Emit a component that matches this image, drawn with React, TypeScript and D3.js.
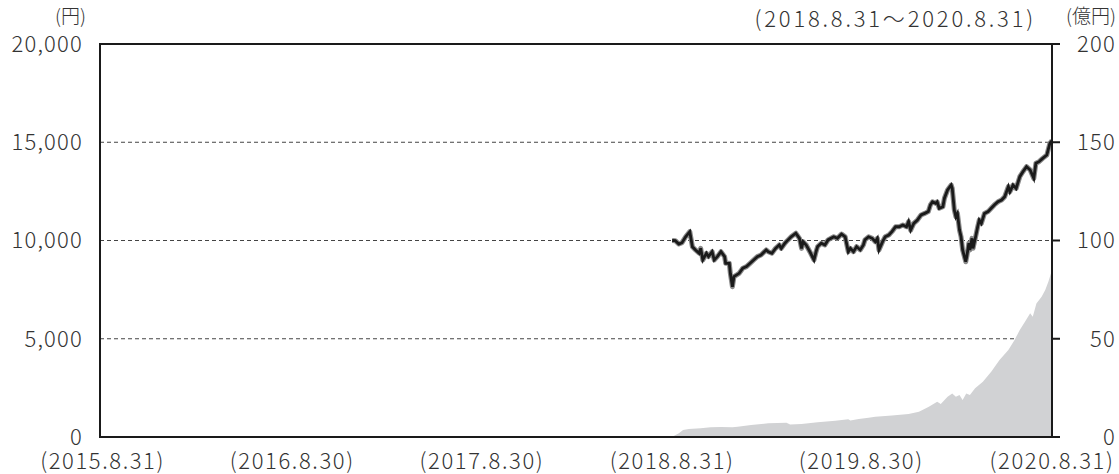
import React from 'react';
import * as d3 from 'd3';

// 基準価額（円）
const navDates = [
  '2018-08-31', '2018-09-06', '2018-09-13', '2018-09-19', '2018-09-26', '2018-10-04', '2018-10-09',
  '2018-10-15', '2018-10-22', '2018-10-25', '2018-10-29', '2018-11-05', '2018-11-09', '2018-11-16',
  '2018-11-20', '2018-11-26', '2018-12-03', '2018-12-10', '2018-12-12', '2018-12-19', '2018-12-21',
  '2018-12-25', '2018-12-28', '2019-01-07', '2019-01-14', '2019-01-21', '2019-01-28', '2019-02-04',
  '2019-02-11', '2019-02-18', '2019-02-28', '2019-03-04', '2019-03-11', '2019-03-18', '2019-03-25',
  '2019-03-29', '2019-04-05', '2019-04-11', '2019-04-17', '2019-04-26', '2019-05-03', '2019-05-07',
  '2019-05-10', '2019-05-16', '2019-05-23', '2019-05-31', '2019-06-04', '2019-06-07', '2019-06-14',
  '2019-06-21', '2019-06-27', '2019-07-08', '2019-07-15', '2019-07-23', '2019-07-30', '2019-08-05',
  '2019-08-09', '2019-08-15', '2019-08-21', '2019-08-28', '2019-09-03', '2019-09-06', '2019-09-13',
  '2019-09-20', '2019-09-26', '2019-09-30', '2019-10-03', '2019-10-10', '2019-10-15', '2019-10-22',
  '2019-10-28', '2019-11-04', '2019-11-11', '2019-11-18', '2019-11-25', '2019-11-29', '2019-12-03',
  '2019-12-09', '2019-12-16', '2019-12-23', '2019-12-30', '2020-01-06', '2020-01-10', '2020-01-14',
  '2020-01-20', '2020-01-23', '2020-01-27', '2020-02-03', '2020-02-06', '2020-02-12', '2020-02-19',
  '2020-02-21', '2020-02-25', '2020-02-28', '2020-03-02', '2020-03-06', '2020-03-09', '2020-03-12',
  '2020-03-18', '2020-03-20', '2020-03-24', '2020-03-26', '2020-03-30', '2020-04-01', '2020-04-06',
  '2020-04-10', '2020-04-13', '2020-04-17', '2020-04-23', '2020-04-30', '2020-05-06', '2020-05-12',
  '2020-05-19', '2020-05-26', '2020-06-01', '2020-06-08', '2020-06-11', '2020-06-17', '2020-06-23',
  '2020-06-30', '2020-07-06', '2020-07-13', '2020-07-20', '2020-07-27', '2020-07-31', '2020-08-06',
  '2020-08-13', '2020-08-21', '2020-08-27', '2020-08-31',
];
const navValues = [
  10000, 9990, 9820, 9890, 10190, 10450, 9680,
  9520, 9350, 9600, 9010, 9350, 9180, 9430,
  9010, 9180, 9430, 9180, 8840, 8840, 8330,
  7650, 8160, 8330, 8590, 8670, 8840, 9010,
  9180, 9260, 9520, 9430, 9350, 9600, 9770,
  9600, 9860, 10030, 10190, 10370, 10110, 9600,
  9940, 9770, 9430, 9010, 9430, 9690, 9860,
  9770, 10030, 10190, 10110, 10330, 10190, 9430,
  9600, 9430, 9690, 9520, 9770, 10030, 10190,
  10110, 9940, 10110, 9520, 9940, 10190, 10280,
  10450, 10700, 10700, 10790, 10700, 10960, 10530,
  10870, 11040, 11300, 11380, 11470, 11810, 11970,
  11890, 11970, 11640, 11720, 12150, 12570, 12820,
  12660, 11550, 11210, 11380, 10530, 10190, 9520,
  8920, 9180, 9860, 9520, 10110, 9600, 10190,
  10700, 11040, 10870, 11380, 11470, 11640, 11810,
  11970, 12060, 12230, 12740, 12480, 12820, 12650,
  13250, 13500, 13760, 13590, 13160, 13930, 14010,
  14180, 14350, 14950, 15080,
];

// 純資産総額（億円）
const assetDates = [
  '2018-08-31', '2018-09-03', '2018-09-13', '2018-09-21', '2018-10-02', '2018-10-25', '2018-11-13',
  '2018-12-03', '2018-12-25', '2019-01-04', '2019-01-30', '2019-03-04', '2019-04-08', '2019-04-15',
  '2019-05-07', '2019-06-07', '2019-07-11', '2019-08-05', '2019-08-09', '2019-08-25', '2019-09-13',
  '2019-09-26', '2019-10-28', '2019-11-29', '2019-12-19', '2020-01-07', '2020-01-23', '2020-01-30',
  '2020-02-12', '2020-02-21', '2020-02-28', '2020-03-06', '2020-03-12', '2020-03-19', '2020-03-26',
  '2020-04-05', '2020-04-20', '2020-05-06', '2020-05-22', '2020-06-08', '2020-06-20', '2020-06-30',
  '2020-07-10', '2020-07-20', '2020-07-25', '2020-08-01', '2020-08-11', '2020-08-18', '2020-08-24',
  '2020-08-31',
];
const assetValues = [
  0, 0.5, 1.9, 3.6, 4.1, 4.4, 4.9,
  5.1, 4.9, 5.2, 6.1, 7.0, 7.3, 6.4,
  6.6, 7.5, 8.3, 9.0, 8.4, 9.2, 9.8,
  10.3, 11.0, 11.7, 12.9, 15.4, 18.0, 16.8,
  20.5, 22.2, 20.5, 21.4, 18.8, 22.2, 21.4,
  24.8, 28.1, 33.2, 39.2, 44.3, 49.4, 54.5,
  58.7, 63.0, 61.2, 68.0, 71.4, 74.8, 79.0,
  85.0,
];

const xTickDates = ['2015-08-31', '2016-08-30', '2017-08-30', '2018-08-31', '2019-08-30', '2020-08-31'];
const xTickLabels = ['(2015.8.31)', '(2016.8.30)', '(2017.8.30)', '(2018.8.31)', '(2019.8.30)', '(2020.8.31)'];
const leftTicks = [0, 5000, 10000, 15000, 20000];
const rightTicks = [0, 50, 100, 150, 200];

const width = 1119;
const height = 474;
const margin = { top: 44, right: 67, bottom: 37, left: 100 };
const font = "'Noto Sans CJK JP', 'Noto Sans', sans-serif";

const parse = d3.timeParse('%Y-%m-%d');

export default function App() {
  const x = d3.scaleTime()
    .domain([parse('2015-08-26')!, parse('2020-08-31')!])
    .range([margin.left, width - margin.right]);
  const yL = d3.scaleLinear().domain([0, 20000]).range([height - margin.bottom, margin.top]);
  const yR = d3.scaleLinear().domain([0, 200]).range([height - margin.bottom, margin.top]);

  const nav = navDates.map((d, i) => ({ date: parse(d)!, value: navValues[i] }));
  const assets = assetDates.map((d, i) => ({ date: parse(d)!, value: assetValues[i] }));

  const line = d3.line<{ date: Date; value: number }>()
    .x(d => x(d.date))
    .y(d => yL(d.value));
  const area = d3.area<{ date: Date; value: number }>()
    .x(d => x(d.date))
    .y0(yR(0))
    .y1(d => yR(d.value));

  const x0 = margin.left;
  const x1 = width - margin.right;
  const yTop = margin.top;
  const yBot = height - margin.bottom;

  return (
    <svg width={width} height={height} style={{ position: 'absolute', left: 0, top: 0, background: '#fff' }}
      fontFamily={font} fontWeight={300}>
      {/* gridlines */}
      {leftTicks.filter(t => t > 0 && t < 20000).map(t => (
        <line key={t} x1={x0} x2={x1} y1={yL(t)} y2={yL(t)} stroke="#444" strokeWidth={1} strokeDasharray="4,3" />
      ))}

      <path d={area(assets) || ''} fill="#d1d2d4" />
      <path d={line(nav) || ''} fill="none" stroke="#8a8a8a" strokeWidth={5} strokeLinejoin="round" />
      <path d={line(nav) || ''} fill="none" stroke="#1a1a1a" strokeWidth={2.8} strokeLinejoin="miter" />

      {/* frame */}
      <line x1={x0} x2={x1} y1={yTop} y2={yTop} stroke="#1a1a1a" strokeWidth={2} />
      <line x1={x0} x2={x1 + 8} y1={yBot} y2={yBot} stroke="#1a1a1a" strokeWidth={2} />
      <line x1={x0} x2={x0} y1={yTop - 1} y2={yBot + 1} stroke="#1a1a1a" strokeWidth={2} />
      <line x1={x1} x2={x1} y1={yTop - 1} y2={yBot + 1} stroke="#1a1a1a" strokeWidth={2} />
      {rightTicks.map(t => (
        <line key={t} x1={x1} x2={x1 + 8} y1={yR(t)} y2={yR(t)} stroke="#1a1a1a" strokeWidth={2} />
      ))}

      {/* left axis labels */}
      {leftTicks.map(t => (
        <text key={t} x={83} y={yL(t)} dy="0.36em" textAnchor="end" fontSize={22} letterSpacing={1.2} fill="#333">
          {d3.format(',')(t)}
        </text>
      ))}
      {/* right axis labels */}
      {rightTicks.map(t => (
        <text key={t} x={1116} y={yR(t)} dy="0.36em" textAnchor="end" fontSize={22} letterSpacing={1.2} fill="#333">
          {t}
        </text>
      ))}
      {/* x labels */}
      {xTickDates.map((d, i) => (
        <text key={d} x={x(parse(d)!)} y={461} dy="0.36em" textAnchor="middle" fontSize={22} letterSpacing={1.6} fill="#333">
          {xTickLabels[i]}
        </text>
      ))}

      <text x={86} y={23} textAnchor="end" fontSize={19} fill="#333">(円)</text>
      <text x={1116} y={23} textAnchor="end" fontSize={19} fill="#333">(億円)</text>
      <text x={1036} y={27} textAnchor="end" fontSize={22} letterSpacing={2.8} fill="#333">(2018.8.31～2020.8.31)</text>
    </svg>
  );
}
